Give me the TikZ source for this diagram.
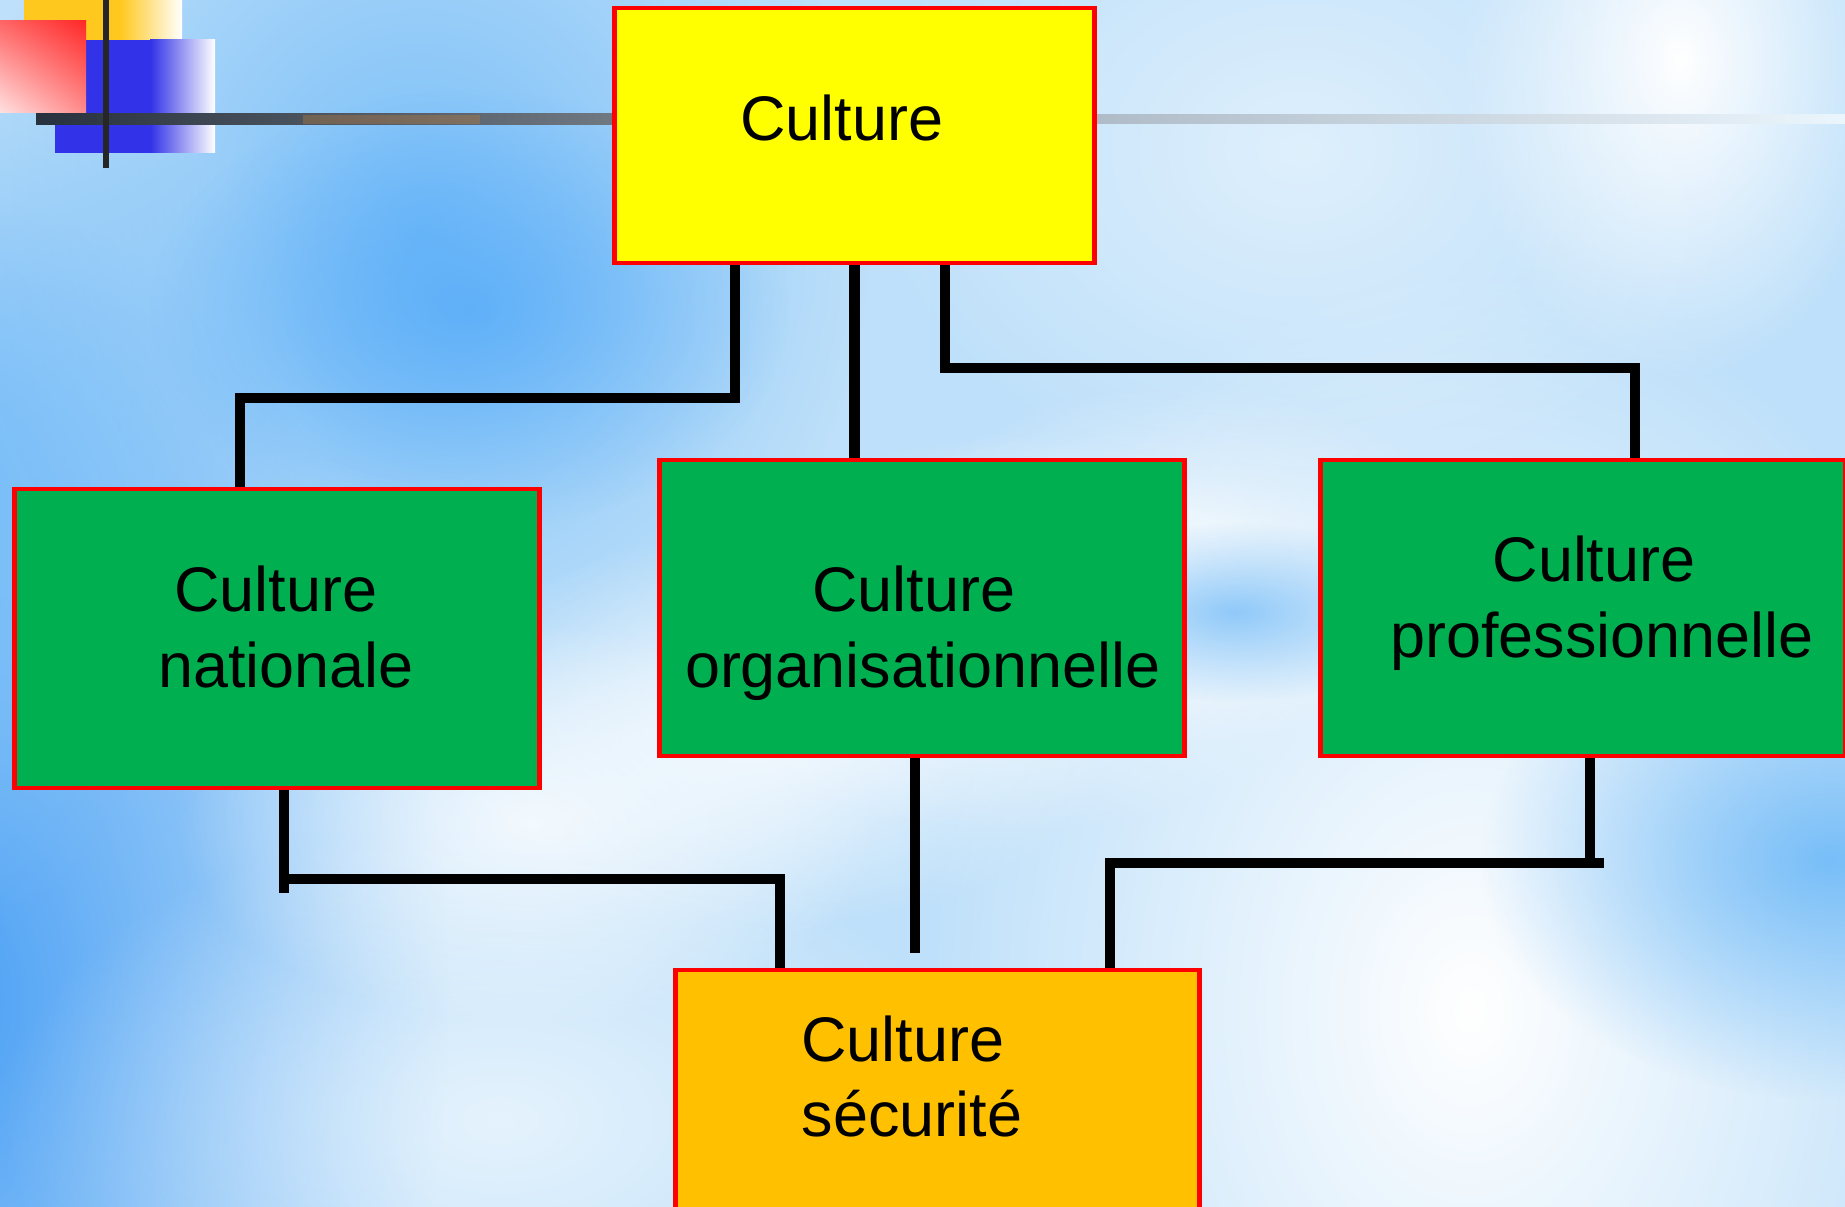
\documentclass[tikz,border=0pt]{standalone}
\usepackage{fontspec}
\setmainfont{Liberation Sans}
\usetikzlibrary{fadings,shadings}
\definecolor{bgblue}{RGB}{190,224,250}
\definecolor{deepblue}{RGB}{75,160,245}
\definecolor{midblue}{RGB}{120,190,248}
\definecolor{swirlblue}{RGB}{80,168,248}
\definecolor{boxgreen}{RGB}{0,176,80}
\definecolor{boxyellow}{RGB}{255,255,0}
\definecolor{boxorange}{RGB}{255,192,0}
\definecolor{boxred}{RGB}{255,0,0}
\definecolor{decoyellow}{RGB}{255,200,30}
\definecolor{decoblue}{RGB}{50,50,232}
\definecolor{decored}{RGB}{255,40,40}
\definecolor{decopink}{RGB}{255,225,225}
\definecolor{linedark}{RGB}{40,50,62}
\definecolor{linegray}{RGB}{112,120,130}
\definecolor{linelight}{RGB}{175,188,200}
\definecolor{linewhite}{RGB}{235,245,252}
\tikzfading[name=softglow, inner color=transparent!0, outer color=transparent!100]
\pgfdeclarelayer{backdrop}
\pgfdeclarelayer{links}
\pgfsetlayers{backdrop,links,main}
\begin{document}
\begin{tikzpicture}[x=0.01cm, y=-0.01cm,
  box/.style={draw=boxred, line width=1.35pt, inner sep=0pt, rectangle},
  link/.style={line width=2.85pt, black, line join=miter},
  txt/.style={inner sep=0pt, anchor=base, font=\fontsize{17.9}{21.5}\selectfont},
  glow/.style={path fading=softglow}]
\useasboundingbox (0,0) rectangle (1845,1207);

% ---------- background ----------
\begin{pgfonlayer}{backdrop}
\begin{scope}
\clip (0,0) rectangle (1845,1207);
\fill[bgblue] (0,0) rectangle (1845,1207);
\fill[deepblue, glow] (-50,1000) ellipse [x radius=5cm, y radius=8cm];
\fill[midblue, glow] (-50,480) ellipse [x radius=3.5cm, y radius=4.5cm];
\fill[midblue, glow] (420,230) ellipse [x radius=4.5cm, y radius=5cm];
\fill[swirlblue, glow, fill opacity=0.7] (470,310) ellipse [x radius=3.2cm, y radius=2.2cm];
\fill[white, glow, fill opacity=0.8] (530,824) ellipse [x radius=3.5cm, y radius=2cm];
\fill[white, glow, fill opacity=0.8] (765,730) ellipse [x radius=3.5cm, y radius=2cm];
\fill[white, glow, fill opacity=0.8] (1000,635) ellipse [x radius=3.5cm, y radius=2cm];
\fill[white, glow, fill opacity=0.8] (1177,565) ellipse [x radius=3cm, y radius=1.8cm];
\fill[white, glow] (1470,1010) ellipse [x radius=5.5cm, y radius=7.5cm];
\fill[white, glow] (1680,60) ellipse [x radius=2.2cm, y radius=3.2cm];
\fill[white, glow, fill opacity=0.5] (1300,150) ellipse [x radius=4.5cm, y radius=3.5cm];
\fill[white, glow, fill opacity=0.6] (500,1120) ellipse [x radius=5cm, y radius=3cm];
\fill[midblue, glow, fill opacity=0.8] (1235,612) ellipse [x radius=2cm, y radius=0.9cm];
\fill[midblue, glow] (1830,860) ellipse [x radius=3.5cm, y radius=2.4cm];

% ---------- top-left decoration ----------
\fill[decoyellow] (24,0) rectangle (120,41);
\shade[left color=decoyellow, right color=white] (120,0) rectangle (182,41);
\fill[decoblue] (55,40) rectangle (150,153);
\shade[left color=decoblue, right color=white] (150,40) rectangle (215,153);
\shade[upper left=red!60!white, upper right=decored, lower left=decopink, lower right=red!45!white] (0,21) rectangle (86,113);
\shade[left color=linedark, right color=linegray] (36,114) rectangle (614,125);
\fill[brown, fill opacity=0.35] (303,115) rectangle (480,124);
\shade[left color=linelight, right color=linewhite] (1096,115) rectangle (1845,124);
\draw[line width=1.7pt, black!85] (106,0) -- (106,168);
\end{scope}
\end{pgfonlayer}

% ---------- boxes ----------
\node[box, fill=boxyellow, minimum width=4.79cm, minimum height=2.55cm] (top) at (854.5,135.5) {};
\node[box, fill=boxgreen, minimum width=5.24cm, minimum height=2.99cm] (n1) at (277,638.5) {};
\node[box, fill=boxgreen, minimum width=5.24cm, minimum height=2.96cm] (n2) at (922,608) {};
\node[box, fill=boxgreen, minimum width=5.24cm, minimum height=2.96cm] (n3) at (1583,608) {};
\node[box, fill=boxorange, minimum width=5.23cm, minimum height=2.96cm] (bot) at (937.5,1118) {};

% ---------- texts ----------
\node[txt] (t0) at (842,141) {Culture};
\node[txt] (t1a) at (276,612) {Culture};
\node[txt] (t1b) at (286,688) {nationale};
\node[txt] (t2a) at (914,612) {Culture};
\node[txt] (t2b) at (923,688) {organisationnelle};
\node[txt] (t3a) at (1594,582) {Culture};
\node[txt] (t3b) at (1602,658) {professionnelle};
\node[txt] (t4a) at (903,1062) {Culture};
\node[txt] (t4b) at (912,1137) {sécurité};

% ---------- connectors ----------
\coordinate (c5end) at (915,953);
\begin{pgfonlayer}{links}
\draw[link] (top.south -| 735,0) -- (735,398) -- (240,398) -- (240,0 |- n1.north);
\draw[link] (top.south) -- (top.south |- n2.north);
\draw[link] (top.south -| 945,0) -- (945,368) -- (1635,368) -- (1635,0 |- n3.north);
\draw[link] (n1.south -| 284,0) -- (284,893);
\draw[link] (284,879) -- (780,879) -- (780,0 |- bot.north);
\draw[link] (n2.south -| 915,0) -- (c5end);
\draw[link] (n3.south -| 1590,0) -- (1590,868);
\draw[link] (1604,863) -- (1110,863) -- (1110,0 |- bot.north);
\end{pgfonlayer}
\end{tikzpicture}
\end{document}
